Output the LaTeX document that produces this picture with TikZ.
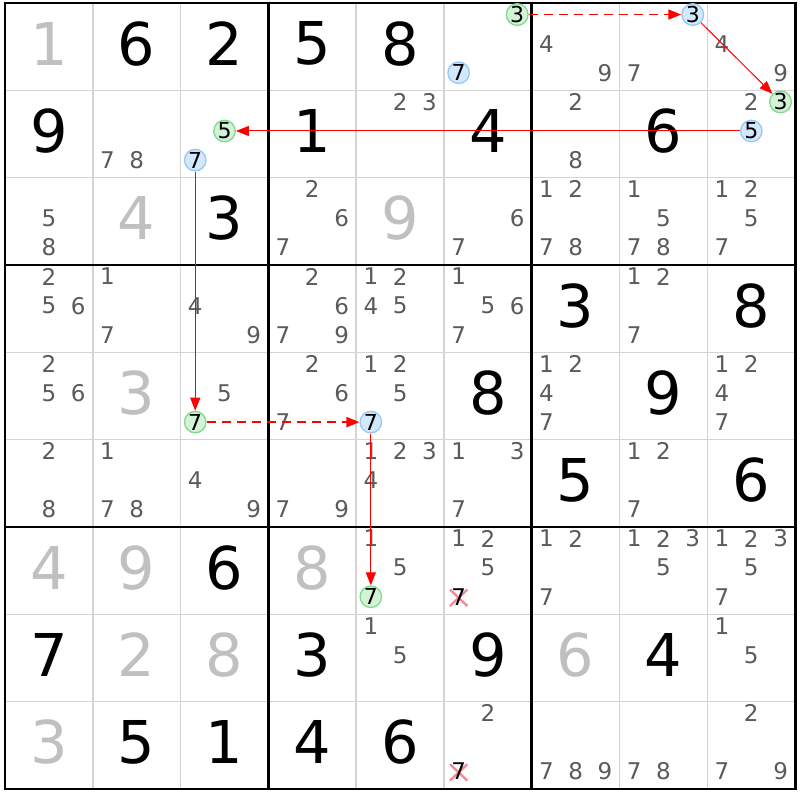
\documentclass[tikz,border=0pt]{standalone}
\usepackage{fontspec}
\setmainfont{DejaVu Sans}
\usetikzlibrary{arrows.meta,shapes.misc}
\definecolor{candc}{RGB}{90,90,90}
\definecolor{givenc}{RGB}{192,192,192}
\definecolor{thinc}{RGB}{212,212,212}
\definecolor{gfill}{RGB}{212,242,216}
\definecolor{gdraw}{RGB}{128,218,140}
\definecolor{bfill}{RGB}{212,232,252}
\definecolor{bdraw}{RGB}{150,200,245}
\definecolor{xred}{RGB}{242,140,150}
\definecolor{arrred}{RGB}{255,0,0}
\begin{document}
\begin{tikzpicture}[x=1pt,y=-1pt,
  declare function={cx(\c,\d)=5+\c*87.8+(mod(\d-1,3)+0.5)*29.267;
                    cy(\r,\d)=3+\r*87.33+(floor((\d-1)/3)+0.5)*29.11-3;
                    bx(\c)=5+(\c+0.5)*87.8; by(\r)=3+(\r+0.5)*87.33-3;},
  thingrid/.style={draw=thinc,line width=1.6pt},
  thickgrid/.style={draw=black,line width=2.8pt},
  bigdig/.style={inner sep=0pt,font=\fontsize{59}{59}\selectfont,text=black},
  givendig/.style={bigdig,text=givenc},
  cand/.style={inner sep=0pt,font=\fontsize{23}{23}\selectfont,text=candc},
  hlg/.style={circle,draw=gdraw,fill=gfill,line width=1.3pt,inner sep=0pt,minimum size=21.5pt,font=\fontsize{22}{22}\selectfont,text=black},
  hlb/.style={circle,draw=bdraw,fill=bfill,line width=1.3pt,inner sep=0pt,minimum size=21.5pt,font=\fontsize{22}{22}\selectfont,text=black},
  xmk/.style={cross out,draw=xred,line width=2.4pt,minimum width=15pt,minimum height=14pt,inner sep=0pt},
  strong/.style={draw=arrred,line width=1pt,-{Triangle[length=13pt,width=10pt]}},
  weak/.style={strong,line width=1.7pt,dash pattern=on 9pt off 6pt}]
\useasboundingbox (0,0) rectangle (800,800);
\fill[white] (0,0) rectangle (800,800);
% grid
\foreach \i in {1,2,4,5,7,8}{
  \draw[thingrid] ({5+\i*87.8},3) -- ({5+\i*87.8},789);
  \draw[thingrid] (5,{3+\i*87.33}) -- (795,{3+\i*87.33});
}
\foreach \i in {0,3,6,9}{
  \draw[thickgrid] ({5+\i*87.8},1.6) -- ({5+\i*87.8},790.4);
  \draw[thickgrid] (3.6,{3+\i*87.33}) -- (796.4,{3+\i*87.33});
}
% solved digits
\foreach \rr/\cc/\dd in {0/1/6,0/2/2,0/3/5,0/4/8,1/0/9,1/3/1,1/5/4,1/7/6,2/2/3,3/6/3,3/8/8,4/5/8,4/7/9,5/6/5,5/8/6,6/2/6,7/0/7,7/3/3,7/5/9,7/7/4,8/1/5,8/2/1,8/3/4,8/4/6}
  \node[bigdig] (b\rr\cc) at ({bx(\cc)},{by(\rr)}) {\dd};
\foreach \rr/\cc/\dd in {0/0/1,2/1/4,2/4/9,4/1/3,6/0/4,6/1/9,6/3/8,7/1/2,7/2/8,7/6/6,8/0/3}
  \node[givendig] (b\rr\cc) at ({bx(\cc)},{by(\rr)}) {\dd};
% candidates
\foreach \rr/\cc/\dd in {0/6/4,0/6/9,0/7/7,0/8/4,0/8/9,
  1/1/7,1/1/8,1/4/2,1/4/3,1/6/2,1/6/8,1/8/2,
  2/0/5,2/0/8,2/3/2,2/3/6,2/3/7,2/5/6,2/5/7,2/6/1,2/6/2,2/6/7,2/6/8,2/7/1,2/7/5,2/7/7,2/7/8,2/8/1,2/8/2,2/8/5,2/8/7,
  3/0/2,3/0/5,3/0/6,3/1/1,3/1/7,3/2/4,3/2/9,3/3/2,3/3/6,3/3/7,3/3/9,3/4/1,3/4/2,3/4/4,3/4/5,3/5/1,3/5/5,3/5/6,3/5/7,3/7/1,3/7/2,3/7/7,
  4/0/2,4/0/5,4/0/6,4/2/5,4/3/2,4/3/6,4/3/7,4/4/1,4/4/2,4/4/5,4/6/1,4/6/2,4/6/4,4/6/7,4/8/1,4/8/2,4/8/4,4/8/7,
  5/0/2,5/0/8,5/1/1,5/1/7,5/1/8,5/2/4,5/2/9,5/3/7,5/3/9,5/4/1,5/4/2,5/4/3,5/4/4,5/5/1,5/5/3,5/5/7,5/7/1,5/7/2,5/7/7,
  6/4/1,6/4/5,6/5/1,6/5/2,6/5/5,6/6/1,6/6/2,6/6/7,6/7/1,6/7/2,6/7/3,6/7/5,6/8/1,6/8/2,6/8/3,6/8/5,6/8/7,
  7/4/1,7/4/5,7/8/1,7/8/5,
  8/5/2,8/6/7,8/6/8,8/6/9,8/7/7,8/7/8,8/8/2,8/8/7,8/8/9}
  \node[cand] (n\rr\cc\dd) at ({cx(\cc,\dd)},{cy(\rr,\dd)}) {\dd};
% eliminated candidates
\foreach \rr/\cc/\dd in {6/5/7,8/5/7}{
  \node[xmk] (x\rr\cc\dd) at ({cx(\cc,\dd)},{cy(\rr,\dd)+1}) {};
  \node[cand,text=black] (n\rr\cc\dd) at ({cx(\cc,\dd)},{cy(\rr,\dd)}) {\dd};
}
% chain links
\foreach \rr/\cc/\dd in {0/5/3,1/8/3,1/2/5,4/2/7,6/4/7}
  \node[hlg] (n\rr\cc\dd) at ({cx(\cc,\dd)},{cy(\rr,\dd)}) {\dd};
\foreach \rr/\cc/\dd in {0/5/7,0/7/3,1/8/5,1/2/7,4/4/7}
  \node[hlb] (n\rr\cc\dd) at ({cx(\cc,\dd)},{cy(\rr,\dd)}) {\dd};
\draw[weak] (n053) -- (n073);
\draw[strong] (n073) -- (n183);
\draw[strong] (n185) -- (n125);
\draw[strong] (n127) -- (n427);
\draw[weak] (n427) -- (n447);
\draw[strong] (n447) -- (n647);
\end{tikzpicture}
\end{document}
